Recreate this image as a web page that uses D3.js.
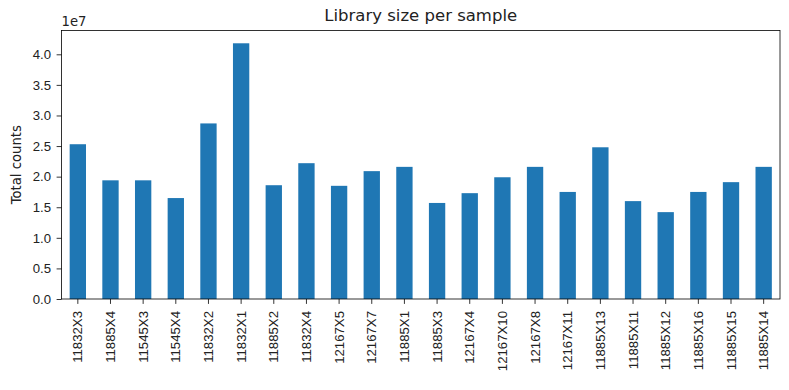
<!DOCTYPE html>
<html lang="en">
<head>
    <meta charset="UTF-8">
    <title>Library size per sample</title>
    <script src="https://d3js.org/d3.v7.min.js"></script>
    <style>
        body { margin: 0; background: white; }
        svg { font-family: "DejaVu Sans", sans-serif; }
        .tick text { font-size: 13.2px; fill: #222; }
        .tick line { stroke: black; stroke-width: 0.8; }
        .domain { display: none; }
    </style>
</head>
<body>
    <div id="chart"></div>
    <script>
        // samples in the order they were plotted
        const samples = ["11832X3", "11885X4", "11545X3", "11545X4", "11832X2", "11832X1",
            "11885X2", "11832X4", "12167X5", "12167X7", "11885X1", "11885X3", "12167X4",
            "12167X10", "12167X8", "12167X11", "11885X13", "11885X11", "11885X12",
            "11885X16", "11885X15", "11885X14"];
        // total counts (units of 1e7)
        const totalCounts = [2.53, 1.94, 1.94, 1.65, 2.87, 4.18, 1.86, 2.22, 1.85, 2.09, 2.16,
            1.57, 1.73, 1.99, 2.16, 1.75, 2.48, 1.60, 1.42, 1.75, 1.91, 2.16];
        const yTicks = [0, 0.5, 1.0, 1.5, 2.0, 2.5, 3.0, 3.5, 4.0];

        const W = 789, H = 390;
        const margin = { top: 30.5, right: 9, bottom: 91, left: 61.5 };
        const width = W - margin.left - margin.right;
        const height = H - margin.top - margin.bottom;

        const svg = d3.select("#chart").append("svg")
            .attr("width", W).attr("height", H);
        const g = svg.append("g")
            .attr("transform", `translate(${margin.left},${margin.top})`);

        const x = d3.scaleBand().domain(samples).range([0, width]).paddingInner(0.5).paddingOuter(0.25);
        const y = d3.scaleLinear().domain([0, d3.max(totalCounts) * 1.05]).range([height, 0]);

        g.selectAll(".bar")
            .data(samples)
            .enter().append("rect")
            .attr("class", "bar")
            .attr("x", d => x(d))
            .attr("width", x.bandwidth())
            .attr("y", (d, i) => y(totalCounts[i]))
            .attr("height", (d, i) => height - y(totalCounts[i]))
            .attr("fill", "#1f77b4");

        // y axis
        g.append("g")
            .call(d3.axisLeft(y).tickValues(yTicks).tickFormat(d3.format(".1f")).tickSizeInner(4.9).tickPadding(5.5));

        // x axis, labels turned upright
        const xAxis = g.append("g")
            .attr("transform", `translate(0,${height})`)
            .call(d3.axisBottom(x).tickSizeInner(4.9).tickSizeOuter(0));
        xAxis.selectAll("text")
            .attr("transform", "rotate(-90)")
            .attr("x", -12)
            .attr("y", 0)
            .attr("dy", "0.35em")
            .style("text-anchor", "end");

        // frame
        g.append("rect")
            .attr("width", width).attr("height", height)
            .attr("fill", "none").attr("stroke", "black").attr("stroke-width", 0.8);

        svg.append("text")
            .attr("x", margin.left)
            .attr("y", margin.top - 4.5)
            .attr("font-size", "13.2px")
            .attr("fill", "#222")
            .text("1e7");

        svg.append("text")
            .attr("x", margin.left + width / 2)
            .attr("y", 21)
            .attr("text-anchor", "middle")
            .attr("font-size", "16.5px")
            .attr("fill", "#222")
            .text("Library size per sample");

        svg.append("text")
            .attr("transform", `translate(21,${margin.top + height / 2}) rotate(-90)`)
            .attr("text-anchor", "middle")
            .attr("font-size", "13.2px")
            .attr("fill", "#222")
            .text("Total counts");
    </script>
</body>
</html>
